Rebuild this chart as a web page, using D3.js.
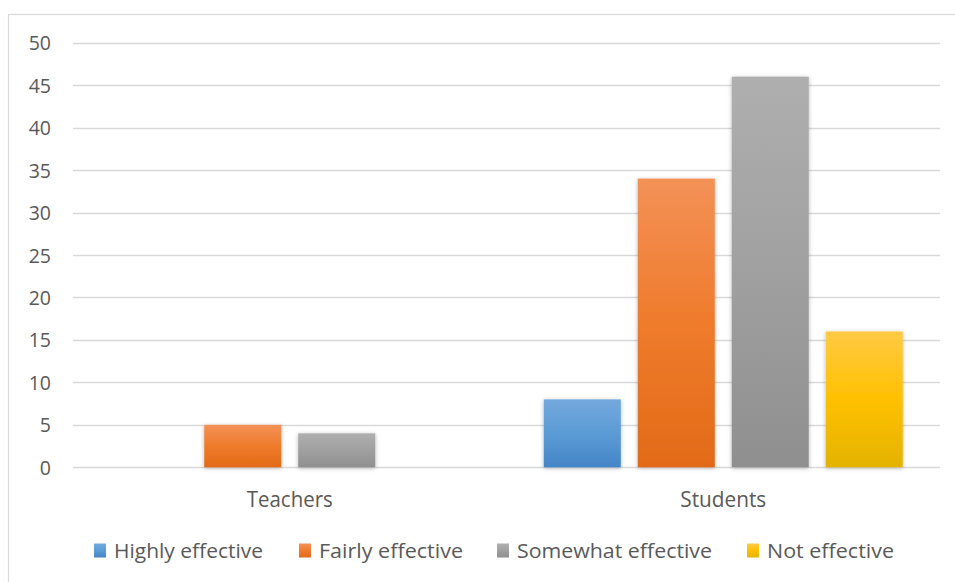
<!DOCTYPE html>
<html>
<head>
<meta charset="utf-8">
<script src="https://cdn.jsdelivr.net/npm/d3@7"></script>
<style>
  html, body { margin: 0; padding: 0; background: #fff; }
  svg { display: block; font-family: "Open Sans", "Noto Sans", sans-serif; }
</style>
</head>
<body>
<svg id="chart" width="955" height="582"></svg>
<script>
// Survey responses: perceived effectiveness, by group
const categories = ["Teachers", "Students"];
const seriesNames = ["Highly effective", "Fairly effective", "Somewhat effective", "Not effective"];
const highlyEffective = [0, 8];
const fairlyEffective = [5, 34];
const somewhatEffective = [4, 46];
const notEffective = [0, 16];
const yTicks = [0, 5, 10, 15, 20, 25, 30, 35, 40, 45, 50];

const seriesValues = [highlyEffective, fairlyEffective, somewhatEffective, notEffective];

// Gradient stops (top, middle, bottom) per series
const palette = [
  ["#74a9de", "#5b9bd5", "#4485c7"],
  ["#f39157", "#ef7b2c", "#e26a17"],
  ["#afafaf", "#a0a0a0", "#8f8f8f"],
  ["#ffca45", "#ffc000", "#e3b300"]
];

const svg = d3.select("#chart");
const W = 955, H = 582;
const plot = { left: 73, right: 940, top: 42.7, bottom: 467.3 };
const textColor = "#595959";

const defs = svg.append("defs");
palette.forEach((c, i) => {
  const g = defs.append("linearGradient")
    .attr("id", "grad" + i)
    .attr("x1", 0).attr("y1", 0).attr("x2", 0).attr("y2", 1);
  g.append("stop").attr("offset", "0%").attr("stop-color", c[0]);
  g.append("stop").attr("offset", "50%").attr("stop-color", c[1]);
  g.append("stop").attr("offset", "100%").attr("stop-color", c[2]);
});
const shadow = defs.append("filter").attr("id", "shadow")
  .attr("x", "-20%").attr("y", "-20%").attr("width", "140%").attr("height", "140%");
shadow.append("feDropShadow")
  .attr("dx", 0).attr("dy", 1).attr("stdDeviation", 2.2)
  .attr("flood-color", "#000").attr("flood-opacity", 0.28);

// Outer chart frame
svg.append("rect")
  .attr("x", 8.5).attr("y", 14.5)
  .attr("width", W + 20).attr("height", H + 20)
  .attr("fill", "#fff").attr("stroke", "#d9d9d9").attr("stroke-width", 1.2);

const y = d3.scaleLinear().domain([0, 50]).range([plot.bottom, plot.top]);
const x0 = d3.scaleBand().domain(categories).range([plot.left, plot.right]).paddingInner(0).paddingOuter(0);
const groupWidth = 359;
const x1 = d3.scaleBand().domain(seriesNames).range([0, groupWidth]).paddingInner(0.18).paddingOuter(0);

// Horizontal gridlines
svg.append("g")
  .selectAll("line")
  .data(yTicks)
  .join("line")
  .attr("x1", plot.left).attr("x2", plot.right)
  .attr("y1", d => Math.round(y(d)) + 0.5).attr("y2", d => Math.round(y(d)) + 0.5)
  .attr("stroke", "#d9d9d9").attr("stroke-width", 1.3);

// Y axis labels
const yAxis = d3.axisLeft(y).tickValues(yTicks).tickSize(0).tickPadding(0);
const yg = svg.append("g").attr("transform", `translate(51,0)`).call(yAxis);
yg.select(".domain").remove();
yg.selectAll("text")
  .attr("fill", textColor).attr("font-size", 19.5)
  .attr("font-family", "'Open Sans', 'Noto Sans', sans-serif")
  .attr("dy", "0.36em");

// Bars
const groups = svg.append("g").selectAll("g")
  .data(categories)
  .join("g")
  .attr("transform", d => `translate(${x0(d) + x0.bandwidth() / 2 - groupWidth / 2},0)`);

groups.selectAll("rect")
  .data((d, ci) => seriesNames.map((s, si) => ({ s, si, v: seriesValues[si][ci] })).filter(e => e.v > 0))
  .join("rect")
  .attr("x", e => x1(e.s))
  .attr("width", x1.bandwidth())
  .attr("y", e => y(e.v))
  .attr("height", e => y(0) - y(e.v))
  .attr("fill", e => `url(#grad${e.si})`)
  .attr("filter", "url(#shadow)");

// X axis category labels
const xAxis = d3.axisBottom(x0).tickSize(0).tickPadding(0);
const xg = svg.append("g").attr("transform", `translate(0,${plot.bottom})`).call(xAxis);
xg.select(".domain").remove();
xg.selectAll("text")
  .attr("fill", textColor).attr("font-size", 22)
  .attr("font-family", "'Open Sans', 'Noto Sans', sans-serif")
  .attr("dy", null)
  .attr("y", 39.4)
  .attr("textLength", 86)
  .attr("lengthAdjust", "spacingAndGlyphs");

// Legend
const legendX = [94, 299, 497, 747];
const legendTextWidth = [149, 144, 195, 127];
const legend = svg.append("g").selectAll("g")
  .data(seriesNames)
  .join("g")
  .attr("transform", (d, i) => `translate(${legendX[i]},0)`);
legend.append("rect")
  .attr("x", 0).attr("y", 543.5).attr("width", 12).attr("height", 14)
  .attr("fill", (d, i) => `url(#grad${i})`);
legend.append("text")
  .attr("x", 20).attr("y", 558)
  .attr("fill", textColor).attr("font-size", 20)
  .attr("textLength", (d, i) => legendTextWidth[i])
  .attr("lengthAdjust", "spacingAndGlyphs")
  .text(d => d);
</script>
</body>
</html>
